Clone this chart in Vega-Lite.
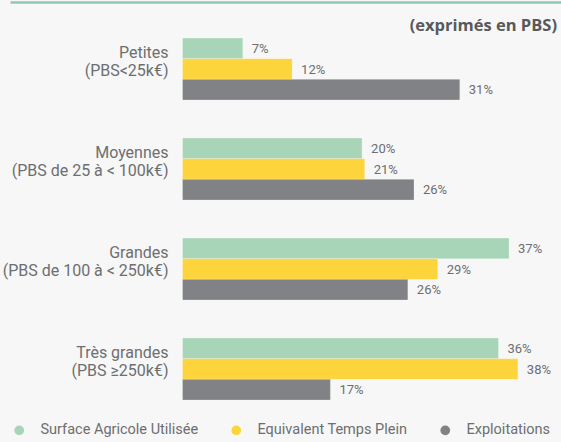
{
  "$schema": "https://vega.github.io/schema/vega-lite/v6.json",
  "width": 551,
  "height": 410,
  "autosize": {"type": "none"},
  "padding": {"left": 10, "top": 2, "right": 0, "bottom": 30},
  "background": "#f7f7f7",
  "config": {
    "view": {"stroke": null},
    "font": "Roboto"
  },
  "title": {
    "text": "(exprimés en PBS)",
    "orient": "top",
    "anchor": "end",
    "frame": "group",
    "font": "Open Sans",
    "fontSize": 16.5,
    "fontWeight": "bold",
    "color": "#58595b",
    "offset": -32,
    "dx": -4
  },
  "datasets": {
    "bars": [
      {"cat": "Petites", "s": "Surface Agricole Utilisée", "v": 6.85, "lbl": "7%"},
      {"cat": "Petites", "s": "Equivalent Temps Plein", "v": 12.45, "lbl": "12%"},
      {"cat": "Petites", "s": "Exploitations", "v": 31.5, "lbl": "31%"},
      {"cat": "Moyennes", "s": "Surface Agricole Utilisée", "v": 20.4, "lbl": "20%"},
      {"cat": "Moyennes", "s": "Equivalent Temps Plein", "v": 20.7, "lbl": "21%"},
      {"cat": "Moyennes", "s": "Exploitations", "v": 26.3, "lbl": "26%"},
      {"cat": "Grandes", "s": "Surface Agricole Utilisée", "v": 37.1, "lbl": "37%"},
      {"cat": "Grandes", "s": "Equivalent Temps Plein", "v": 29.0, "lbl": "29%"},
      {"cat": "Grandes", "s": "Exploitations", "v": 25.6, "lbl": "26%"},
      {"cat": "Très grandes", "s": "Surface Agricole Utilisée", "v": 35.9, "lbl": "36%"},
      {"cat": "Très grandes", "s": "Equivalent Temps Plein", "v": 38.1, "lbl": "38%"},
      {"cat": "Très grandes", "s": "Exploitations", "v": 16.8, "lbl": "17%"}
    ],
    "cats": [
      {"cat": "Petites", "name": "Petites|(PBS<25k€)"},
      {"cat": "Moyennes", "name": "Moyennes|(PBS de 25 à < 100k€)"},
      {"cat": "Grandes", "name": "Grandes|(PBS de 100 à < 250k€)"},
      {"cat": "Très grandes", "name": "Très grandes|(PBS ≥250k€)"}
    ]
  },
  "layer": [
    {
      "data": {"name": "bars"},
      "mark": {"type": "bar", "stroke": "#ffffff", "strokeOpacity": 0.5, "strokeWidth": 0.5},
      "encoding": {
        "y": {
          "field": "cat", "type": "nominal",
          "sort": ["Petites", "Moyennes", "Grandes", "Très grandes"],
          "scale": {"paddingInner": 0.38, "paddingOuter": 0.24, "align": 0.75},
          "axis": null
        },
        "yOffset": {
          "field": "s", "type": "nominal",
          "sort": ["Surface Agricole Utilisée", "Equivalent Temps Plein", "Exploitations"],
          "scale": {"paddingInner": 0, "paddingOuter": 0}
        },
        "x": {
          "field": "v", "type": "quantitative",
          "scale": {"domain": [-19.6, 43.0], "nice": false, "zero": false},
          "axis": {
            "orient": "top", "domain": true, "domainColor": "#8fcab0", "domainWidth": 2.5,
            "ticks": false, "labels": false, "grid": false, "title": null
          }
        },
        "color": {
          "field": "s", "type": "nominal",
          "sort": ["Surface Agricole Utilisée", "Equivalent Temps Plein", "Exploitations"],
          "scale": {
            "domain": ["Surface Agricole Utilisée", "Equivalent Temps Plein", "Exploitations"],
            "range": ["#a8d5b8", "#fdd43b", "#818285"]
          },
          "legend": {
            "orient": "none",
            "legendX": 2,
            "legendY": 421,
            "direction": "horizontal",
            "columns": 3,
            "gridAlign": "each",
            "title": null,
            "symbolType": "circle",
            "symbolSize": 95,
            "symbolStrokeWidth": 0,
            "labelFontSize": 14.5,
            "labelColor": "#6d6e71",
            "labelOffset": 14,
            "columnPadding": 30,
            "labelLimit": 300
          }
        }
      }
    },
    {
      "data": {"name": "bars"},
      "mark": {"type": "text", "align": "left", "baseline": "middle", "dx": 9, "dy": 0.5, "fontSize": 13, "color": "#6d6e71"},
      "encoding": {
        "y": {"field": "cat", "type": "nominal", "sort": ["Petites", "Moyennes", "Grandes", "Très grandes"]},
        "yOffset": {"field": "s", "type": "nominal", "sort": ["Surface Agricole Utilisée", "Equivalent Temps Plein", "Exploitations"]},
        "x": {"field": "v", "type": "quantitative"},
        "text": {"field": "lbl"}
      }
    },
    {
      "data": {"name": "cats"},
      "mark": {"type": "text", "align": "right", "baseline": "middle", "dx": -14, "dy": -16.5, "fontSize": 16, "lineHeight": 18.5, "lineBreak": "|", "color": "#6d6e71"},
      "encoding": {
        "y": {"field": "cat", "type": "nominal", "sort": ["Petites", "Moyennes", "Grandes", "Très grandes"]},
        "x": {"datum": 0},
        "text": {"field": "name"}
      }
    }
  ]
}
